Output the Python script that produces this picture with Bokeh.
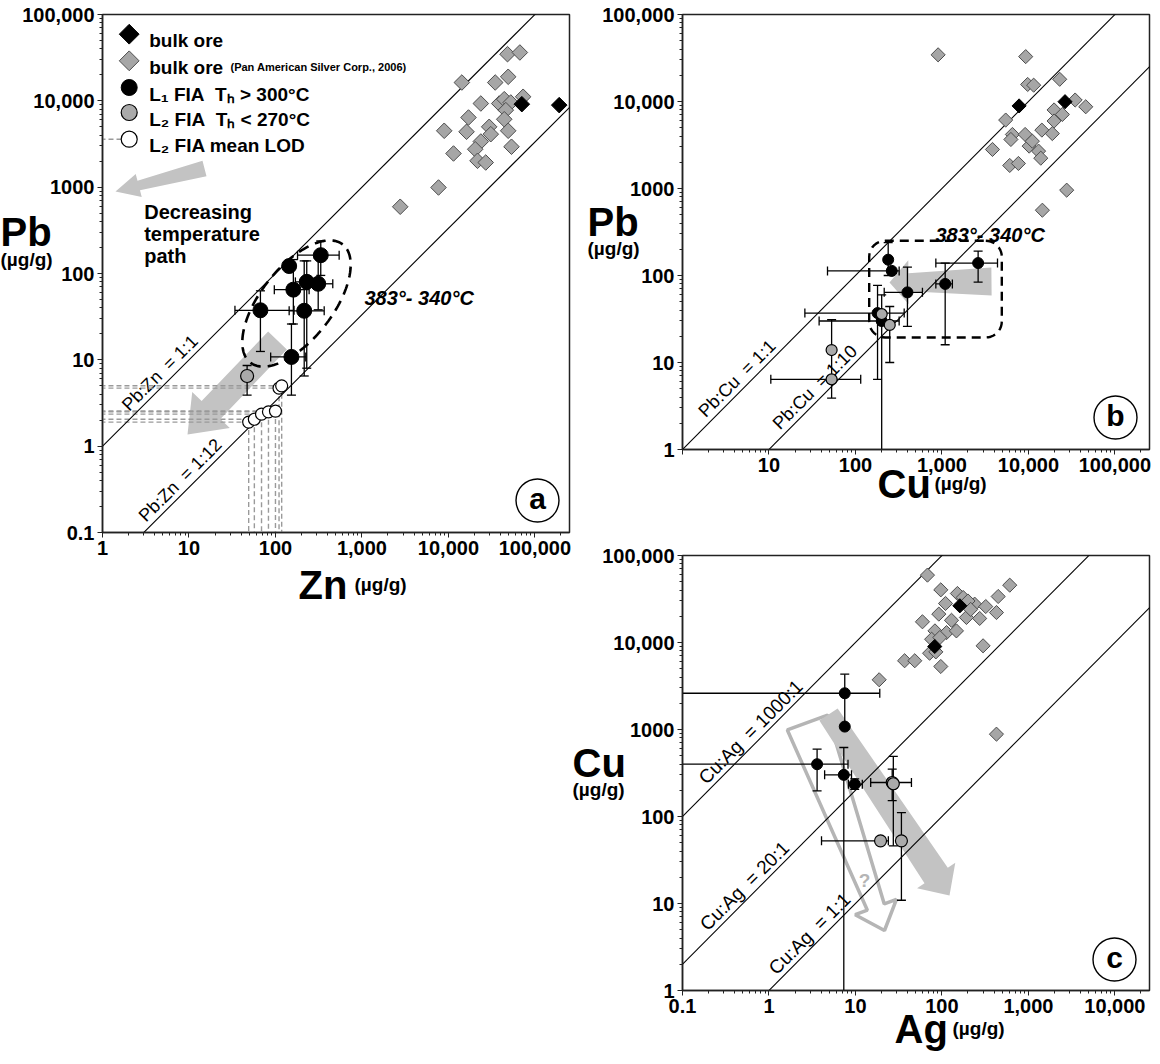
import math
from bokeh.plotting import figure
from bokeh.layouts import row, column
from bokeh.models import Range1d, FixedTicker, Label, CustomJSTickFormatter
from bokeh.embed import file_html
from bokeh.resources import INLINE

NaN = float("nan")
FONT = "Liberation Sans"
ORE_FILL = "#a6a6a6"
ORE_LINE = "#4d4d4d"
L2_FILL = "#aaaaaa"
ARROW_GRAY = "#c3c3c3"
LOD_GRAY = "#9a9a9a"

# ======================= DATA (µg/g) =======================
# ---- panel a : Zn (x) vs Pb (y)
a_ore_zn = [2770, 7680, 11450, 8940, 14300, 17060, 16200, 23700, 34750, 48200, 67000, 49100, 38650,
            44200, 52600, 73100, 46100, 44200, 29600, 30900, 23700, 20400, 21700, 27000, 49100, 53600]
a_ore_pb = [593, 991, 2455, 4500, 16300, 6410, 4380, 9310, 16300, 34700, 36300, 19000, 9310,
            10450, 9570, 11150, 7800, 6120, 5000, 4110, 3380, 2750, 2020, 1930, 4500, 2940]
a_bulk_zn = [70600, 191000]
a_bulk_pb = [9150, 8920]
a_l1_zn = [334, 144, 230, 312, 161, 67, 215, 153]
a_l1_pb = [163, 122, 80, 76, 65, 37.5, 37, 10.8]
a_l1_zn_lo = [180, NaN, 170, 285, 97, 34, 144, 88]
a_l1_zn_hi = [545, NaN, 330, 460, 245, 164, 366, 224]
a_l1_pb_lo = [95, NaN, 8, 38, 26, 12.5, 6.5, 3.9]
a_l1_pb_hi = [238, NaN, 140, 150, 145, 63, 140, 26]
a_l2_zn = [47]
a_l2_pb = [6.5]
a_l2_pb_lo = [3.9]
a_l2_pb_hi = [8.6]
a_lod_zn = [49, 57, 69, 83, 100, 110, 118]
a_lod_pb = [1.9, 2.05, 2.35, 2.5, 2.55, 4.7, 5.0]
a_ratios = [1.0, 1 / 30]          # lines as drawn in the figure
a_ratio_text = ["Pb:Zn\u00a0\u00a0= 1:1", "Pb:Zn\u00a0\u00a0= 1:12"]
a_ratio_at = [5.7, 9.8]
a_xticks = [1, 10, 100, 1000, 10000, 100000]
a_xlabels = ["1", "10", "100", "1,000", "10,000", "100,000"]
a_yticks = [0.1, 1, 10, 100, 1000, 10000, 100000]
a_ylabels = ["0.1", "1", "10", "100", "1000", "10,000", "100,000"]

# ---- panel b : Cu (x) vs Pb (y)
b_ore_cu = [903, 9300, 9800, 11500, 23000, 34700, 46000, 19800, 24700, 19800, 5460, 6530, 6270,
            9160, 10200, 14300, 18900, 13100, 13900, 3840, 6080, 7660, 27700, 14500, 11100]
b_ore_pb = [34400, 32800, 15700, 15400, 18000, 10400, 8700, 8000, 7100, 5970, 6120, 4180, 3660,
            4180, 3070, 4690, 4280, 2690, 2230, 2810, 1840, 1940, 957, 563, 3500]
b_bulk_cu = [7800, 26500]
b_bulk_pb = [8900, 9950]
b_l1_cu = [239, 263, 399, 1090, 2620, 180, 201]
b_l1_pb = [152, 113, 64, 80, 139, 37, 30]
b_l1_cu_lo = [NaN, 47.5, 215, 850, 850, 26, 38]
b_l1_cu_hi = [NaN, 320, 595, 1320, 4390, 366, 320]
b_l1_pb_lo = [100, NaN, 26, 16, 84, 6.4, 0.3]
b_l1_pb_hi = [239, NaN, 125, 139, 191, 77, 60]
b_l2_cu = [201, 249, 53, 53]
b_l2_pb = [36, 27, 13.9, 6.4]
b_l2_cu_lo = [NaN, NaN, NaN, 10.5]
b_l2_cu_hi = [NaN, NaN, NaN, 115]
b_l2_pb_lo = [NaN, 10, NaN, 3.9]
b_l2_pb_hi = [NaN, 44, NaN, 31]
b_ratios = [1.0, 0.1]
b_ratio_text = ["Pb:Cu\u00a0\u00a0= 1:1", "Pb:Cu\u00a0\u00a0= 1:10"]
b_ratio_at = [5.3, 42]
b_xticks = [1, 10, 100, 1000, 10000, 100000]
b_xlabels = ["", "10", "100", "1,000", "10,000", "100,000"]
b_yticks = [1, 10, 100, 1000, 10000, 100000]
b_ylabels = ["1", "10", "100", "1000", "10,000", "100,000"]

# ---- panel c : Ag (x) vs Cu (y)
c_ore_ag = [68, 97, 151, 608, 447, 18.8, 37, 48.5, 59.5, 92, 110, 129, 192, 239, 273, 321, 427, 83,
            113, 147, 76, 94.5, 72, 85, 97, 299, 427, 176, 200, 215]
c_ore_cu = [59500, 40300, 36600, 45600, 33800, 3730, 6170, 6170, 17300, 21200, 28100, 18000, 19400,
            27600, 18900, 25900, 22100, 13600, 13000, 13600, 10900, 11400, 7530, 7800, 5300, 9160,
            884, 32900, 30000, 24000]
c_bulk_ag = [161, 82.6]
c_bulk_cu = [26400, 9000]
c_l1_ag = [7.52, 7.52, 3.6, 7.33, 9.8]
c_l1_cu = [2610, 1080, 399, 301, 235]
c_l1_ag_lo = [0.01, NaN, 0.01, 4.4, 8.3]
c_l1_ag_hi = [19.1, NaN, 8.2, 9.0, 12]
c_l1_cu_lo = [1080, 884, 197, 0.3, 205]
c_l1_cu_hi = [4330, NaN, 594, 621, 270]
c_l2_ag = [26.6, 27.4, 19.5, 34]
c_l2_cu = [246, 238, 52.5, 52.5]
c_l2_ag_lo = [15, NaN, 4.05, NaN]
c_l2_ag_hi = [44.4, NaN, 24, NaN]
c_l2_cu_lo = [152, 46, NaN, 10.9]
c_l2_cu_hi = [350, 490, NaN, 111]
c_ratios = [1000.0, 20.0, 1.0]
c_ratio_text = ["Cu:Ag\u00a0\u00a0= 1000:1", "Cu:Ag\u00a0\u00a0= 20:1", "Cu:Ag\u00a0\u00a0= 1:1"]
c_ratio_at = [0.76, 0.645, 3.64]
c_xticks = [0.1, 1, 10, 100, 1000, 10000]
c_xlabels = ["0.1", "1", "10", "100", "1,000", "10,000"]
c_yticks = [1, 10, 100, 1000, 10000, 100000]
c_ylabels = ["1", "10", "100", "1000", "10,000", "100,000"]

# axis titles (text, size) - placed on a transparent overlay
titles = [("Pb", 40), ("(µg/g)", 19), ("Zn", 40), ("(µg/g)", 19),
          ("Pb", 40), ("(µg/g)", 19), ("Cu", 40), ("(µg/g)", 19),
          ("Cu", 40), ("(µg/g)", 19), ("Ag", 40), ("(µg/g)", 19)]

# ======================= LAYOUT GEOMETRY =======================
DX = 467 / 5.4
FA = dict(left=110, bottom=540, xlo=1.0, ylo=0.1, dx=DX, dy=518 / 6)
FB = dict(left=690, bottom=457, xlo=1.0, ylo=1.0, dx=DX, dy=435 / 5)
FC = dict(left=690, bottom=998, xlo=0.1, ylo=1.0, dx=DX, dy=435 / 5)
TITLE_POS = [(8, 239), (8, 267), (306, 592), (362, 592),
             (595, 229), (595, 256), (885, 491), (942, 491),
             (580, 770), (580, 797), (902, 1036), (960, 1036)]


def to_data(F, px, py):
    return (F["xlo"] * 10 ** ((px - F["left"]) / F["dx"]),
            F["ylo"] * 10 ** ((F["bottom"] - py) / F["dy"]))


def fmt(ticks, labels):
    return CustomJSTickFormatter(args=dict(tv=ticks, tl=labels), code="""
        for (let i = 0; i < tv.length; i++) {
            if (Math.abs(Math.log10(tv[i]) - Math.log10(tick)) < 1e-6) return tl[i];
        }
        return "";
    """)


def make_fig(xr, yr, fh, bl, br, bt, bb, xt, xl, yt, yl):
    p = figure(x_axis_type="log", y_axis_type="log", x_range=Range1d(*xr), y_range=Range1d(*yr),
               frame_width=467, frame_height=fh, min_border_left=bl, min_border_right=br,
               min_border_top=bt, min_border_bottom=bb, output_backend="svg",
               toolbar_location=None, background_fill_color="white", border_fill_color="white")
    p.grid.visible = False
    p.outline_line_color = "#222222"
    p.outline_line_width = 1.5
    for ax, ticks, labels in ((p.xaxis[0], xt, xl), (p.yaxis[0], yt, yl)):
        minor = [m * t for t in ticks for m in range(2, 10)]
        ax.ticker = FixedTicker(ticks=ticks, minor_ticks=minor)
        ax.formatter = fmt(ticks, labels)
        ax.major_label_text_font = FONT
        ax.major_label_text_font_size = "20px"
        ax.major_label_text_font_style = "bold"
        ax.major_label_text_color = "black"
        ax.axis_line_width = 1.5
        ax.axis_line_color = "#222222"
        ax.major_tick_out = 5
        ax.major_tick_in = 0
        ax.minor_tick_out = 3
        ax.minor_tick_in = 0
        ax.major_tick_line_color = "#222222"
        ax.minor_tick_line_color = "#222222"
        ax.major_label_standoff = 3
    return p


def errorbars(p, x, y, lo, hi, axis, cap=9, color="black", width=1.3):
    x0, y0, x1, y1, cx, cy = [], [], [], [], [], []
    for xi, yi, l, h in zip(x, y, lo, hi):
        if math.isnan(l) or math.isnan(h):
            continue
        if axis == "x":
            x0.append(l); x1.append(h); y0.append(yi); y1.append(yi)
            cx += [l, h]; cy += [yi, yi]
        else:
            x0.append(xi); x1.append(xi); y0.append(l); y1.append(h)
            cx += [xi, xi]; cy += [l, h]
    if x0:
        p.segment(x0, y0, x1, y1, line_color=color, line_width=width)
        p.scatter(cx, cy, marker="dash", size=cap, angle=(math.pi / 2 if axis == "x" else 0.0),
                  line_color=color, line_width=width)


def arrow_patch(F, tail, tip, w_tail, w_neck, w_head, l_head):
    (x0, y0), (x1, y1) = tail, tip
    L = math.hypot(x1 - x0, y1 - y0)
    ux, uy = (x1 - x0) / L, (y1 - y0) / L
    nx, ny = -uy, ux
    kx, ky = x1 - ux * l_head, y1 - uy * l_head
    pts = [(x0 + nx * w_tail / 2, y0 + ny * w_tail / 2),
           (kx + nx * w_neck / 2, ky + ny * w_neck / 2),
           (kx + nx * w_head / 2, ky + ny * w_head / 2),
           (x1, y1),
           (kx - nx * w_head / 2, ky - ny * w_head / 2),
           (kx - nx * w_neck / 2, ky - ny * w_neck / 2),
           (x0 - nx * w_tail / 2, y0 - ny * w_tail / 2)]
    d = [to_data(F, a, b) for a, b in pts]
    return [q[0] for q in d], [q[1] for q in d]


def ellipse_line(F, cx, cy, a, b, ang, n=160):
    th = math.radians(ang)
    out = []
    for i in range(n + 1):
        t = 2 * math.pi * i / n
        ex, ey = a * math.cos(t), b * math.sin(t)
        out.append(to_data(F, cx + ex * math.cos(th) - ey * math.sin(th),
                           cy - (ex * math.sin(th) + ey * math.cos(th))))
    return [q[0] for q in out], [q[1] for q in out]


def rounded_rect(F, x0, y0, x1, y1, r, n=10):
    pts = []
    corners = [(x1 - r, y0 + r, -90, 0), (x1 - r, y1 - r, 0, 90),
               (x0 + r, y1 - r, 90, 180), (x0 + r, y0 + r, 180, 270)]
    for cx, cy, a0, a1 in corners:
        for i in range(n + 1):
            a = math.radians(a0 + (a1 - a0) * i / n)
            pts.append((cx + r * math.cos(a), cy + r * math.sin(a)))
    pts.append(pts[0])
    d = [to_data(F, a, b) for a, b in pts]
    return [q[0] for q in d], [q[1] for q in d]


def page_text(p, F, px, py, text, size, style="bold", align="left", baseline="alphabetic",
              color="black"):
    x, y = to_data(F, px, py)
    p.add_layout(Label(x=x, y=y, text=text, text_font=FONT, text_font_size=f"{size}px",
                       text_font_style=style, text_align=align, text_baseline=baseline,
                       text_color=color))


def ratio_lines(p, xr, ratios, texts, at, size):
    for r, t, xa in zip(ratios, texts, at):
        p.line([xr[0] / 10, xr[1] * 10], [r * xr[0] / 10, r * xr[1] * 10],
               line_color="black", line_width=1.1)
        p.add_layout(Label(x=xa, y=r * xa, text=t, angle=math.pi / 4, text_align="center",
                           text_baseline="middle", x_offset=-8, y_offset=8, text_font=FONT,
                           text_font_size=f"{size}px", text_color="black", level="underlay"))


def panel_tag(p, F, px, py, letter):
    x, y = to_data(F, px, py)
    p.scatter([x], [y], marker="circle", size=43, fill_color="white", line_color="black",
              line_width=1.4)
    p.add_layout(Label(x=x, y=y, text=letter, text_align="center", text_baseline="middle",
                       y_offset=2, text_font=FONT, text_font_size="30px",
                       text_font_style="bold", text_color="black"))


def ore(p, xs, ys, bx, by, size=10.5):
    p.scatter(xs, ys, marker="square", angle=math.pi / 4, size=size, fill_color=ORE_FILL,
              line_color=ORE_LINE, line_width=1)
    p.scatter(bx, by, marker="square", angle=math.pi / 4, size=size, fill_color="black",
              line_color="black", line_width=1)


# ======================= PANEL A =======================
XA, YA = (1, 10 ** 5.4), (0.1, 1e5)
pa = make_fig(XA, YA, 518, 102, 3, 14, 70, a_xticks, a_xlabels, a_yticks, a_ylabels)

ax_, ay_ = arrow_patch(FA, (285, 348), (195, 442), 26, 26, 52, 34)
pa.patch(ax_, ay_, fill_color=ARROW_GRAY, line_color=None)
for zx, pbv in zip(a_lod_zn, a_lod_pb):
    pa.line([0.5, zx], [pbv, pbv], line_color=LOD_GRAY, line_dash="5 3", line_width=1.4)
    pa.line([zx, zx], [pbv, 0.05], line_color=LOD_GRAY, line_dash="5 3", line_width=1.4)
ratio_lines(pa, XA, a_ratios, a_ratio_text, a_ratio_at, 18)
ex, ey = ellipse_line(FA, 304, 311, 75, 36, 52)
pa.line(ex, ey, line_color="black", line_width=2.6, line_dash="11 7")
ore(pa, a_ore_zn, a_ore_pb, a_bulk_zn, a_bulk_pb, 11)
errorbars(pa, a_l1_zn, a_l1_pb, a_l1_zn_lo, a_l1_zn_hi, "x")
errorbars(pa, a_l1_zn, a_l1_pb, a_l1_pb_lo, a_l1_pb_hi, "y")
errorbars(pa, a_l2_zn, a_l2_pb, a_l2_pb_lo, a_l2_pb_hi, "y")
pa.scatter(a_lod_zn, a_lod_pb, marker="circle", size=12, fill_color="white", line_color="black",
           line_width=1.2)
pa.scatter(a_l2_zn, a_l2_pb, marker="circle", size=13, fill_color=L2_FILL, line_color="black",
           line_width=1.2)
pa.scatter(a_l1_zn, a_l1_pb, marker="circle", size=15, fill_color="black", line_color="black")
page_text(pa, FA, 372, 305, "383°- 340°C", 20, style="bold italic")

# legend
rows_y = [41.7, 68.3, 95, 120, 146.7]
lx = 136.7
lpos = [to_data(FA, lx, yy) for yy in rows_y]
lxs = [q[0] for q in lpos]
lys = [q[1] for q in lpos]
ldx0 = to_data(FA, 108, 0)[0]
pa.line([ldx0, lxs[4]], [lys[4], lys[4]], line_color=LOD_GRAY, line_dash="5 3", line_width=1.4)
pa.scatter([lxs[0]], [lys[0]], marker="square", angle=math.pi / 4, size=14, fill_color="black",
           line_color="black")
pa.scatter([lxs[1]], [lys[1]], marker="square", angle=math.pi / 4, size=14, fill_color=ORE_FILL,
           line_color=ORE_LINE)
pa.scatter([lxs[2]], [lys[2]], marker="circle", size=16, fill_color="black", line_color="black")
pa.scatter([lxs[3]], [lys[3]], marker="circle", size=16, fill_color=L2_FILL, line_color="black",
           line_width=1.2)
pa.scatter([lxs[4]], [lys[4]], marker="circle", size=16, fill_color="white", line_color="black",
           line_width=1.2)
leg_text = ["bulk ore", "bulk ore", "L\u2081 FIA\u00a0\u00a0T\u2095 > 300°C",
            "L\u2082 FIA\u00a0\u00a0T\u2095 < 270°C", "L\u2082 FIA mean LOD"]
for yy, t in zip(rows_y, leg_text):
    page_text(pa, FA, 156.7, yy + 6.5, t, 19)
page_text(pa, FA, 238, rows_y[1] + 6.5, "(Pan American Silver Corp., 2006)", 11)
lgx, lgy = arrow_patch(FA, (212, 176), (123, 199), 16, 10, 24, 24)
pa.patch(lgx, lgy, fill_color=ARROW_GRAY, line_color=None)
for yy, t in zip([219, 241, 263], ["Decreasing", "temperature", "path"]):
    page_text(pa, FA, 151.7, yy, t, 20)
panel_tag(pa, FA, 545, 508, "a")

# ======================= PANEL B =======================
XB, YB = (1, 10 ** 5.4), (1, 1e5)
pb = make_fig(XB, YB, 435, 110, 3, 14, 70, b_xticks, b_xlabels, b_yticks, b_ylabels)
bx_, by_ = arrow_patch(FB, (999, 289), (897, 290), 28, 18, 44, 19)
pb.patch(bx_, by_, fill_color=ARROW_GRAY, line_color=None)
ratio_lines(pb, XB, b_ratios, b_ratio_text, b_ratio_at, 18)
rx, ry = rounded_rect(FB, 876.7, 248.3, 1009.3, 345, 16)
pb.line(rx, ry, line_color="black", line_width=2.4, line_dash="9 6")
ore(pb, b_ore_cu, b_ore_pb, b_bulk_cu, b_bulk_pb, 10)
errorbars(pb, b_l1_cu, b_l1_pb, b_l1_cu_lo, b_l1_cu_hi, "x")
errorbars(pb, b_l1_cu, b_l1_pb, b_l1_pb_lo, b_l1_pb_hi, "y")
errorbars(pb, b_l2_cu, b_l2_pb, b_l2_cu_lo, b_l2_cu_hi, "x")
errorbars(pb, b_l2_cu, b_l2_pb, b_l2_pb_lo, b_l2_pb_hi, "y")
pb.scatter(b_l1_cu, b_l1_pb, marker="circle", size=11, fill_color="black", line_color="black")
pb.scatter(b_l2_cu, b_l2_pb, marker="circle", size=11, fill_color=L2_FILL, line_color="black",
           line_width=1.2)
page_text(pb, FB, 943, 242, "383°- 340°C", 20, style="bold italic")
panel_tag(pb, FB, 1123, 425, "b")

# ======================= PANEL C =======================
XC, YC = (0.1, 10 ** 4.4), (1, 1e5)
pc = make_fig(XC, YC, 435, 110, 3, 36, 64, c_xticks, c_xlabels, c_yticks, c_ylabels)
hx, hy = arrow_patch(FC, (815, 730), (892, 938), 43, 18, 44, 25)
pc.patch(hx, hy, fill_color=None, line_color="#b5b5b5", line_width=3.5)
fx, fy = arrow_patch(FC, (836, 722), (957, 903), 22, 28, 46, 24)
pc.patch(fx, fy, fill_color=ARROW_GRAY, line_color=None)
page_text(pc, FC, 872, 888, "?", 19, color="#b5b5b5", align="center")
ratio_lines(pc, XC, c_ratios, c_ratio_text, c_ratio_at, 19)
ore(pc, c_ore_ag, c_ore_cu, c_bulk_ag, c_bulk_cu, 10)
errorbars(pc, c_l1_ag, c_l1_cu, c_l1_ag_lo, c_l1_ag_hi, "x")
errorbars(pc, c_l1_ag, c_l1_cu, c_l1_cu_lo, c_l1_cu_hi, "y")
errorbars(pc, c_l2_ag, c_l2_cu, c_l2_ag_lo, c_l2_ag_hi, "x")
errorbars(pc, c_l2_ag, c_l2_cu, c_l2_cu_lo, c_l2_cu_hi, "y")
pc.scatter(c_l1_ag, c_l1_cu, marker="circle", size=11, fill_color="black", line_color="black")
pc.scatter(c_l2_ag, c_l2_cu, marker="circle", size=12, fill_color=L2_FILL, line_color="black",
           line_width=1.2)
panel_tag(pc, FC, 1122, 967, "c")

# ======================= TITLE OVERLAY =======================
H_TOTAL = (14 + 435 + 70) + (36 + 435 + 64)
ov = figure(x_range=Range1d(0, 1152), y_range=Range1d(H_TOTAL, 0), frame_width=1152,
            frame_height=H_TOTAL, min_border=0, x_axis_location=None, y_axis_location=None,
            toolbar_location=None, output_backend="svg", margin=(-H_TOTAL, 0, 0, 0))
ov.background_fill_alpha = 0
ov.border_fill_alpha = 0
ov.outline_line_color = None
ov.grid.visible = False
for (t, s), (px, py) in zip(titles, TITLE_POS):
    ov.add_layout(Label(x=px - 8, y=py - 8, text=t, text_font=FONT, text_font_size=f"{s}px",
                        text_font_style="bold", text_color="black", text_align="left",
                        text_baseline="alphabetic"))

layout = column(row(pa, column(pb, pc)), ov)
open("out.html", "w").write(file_html(layout, INLINE))
